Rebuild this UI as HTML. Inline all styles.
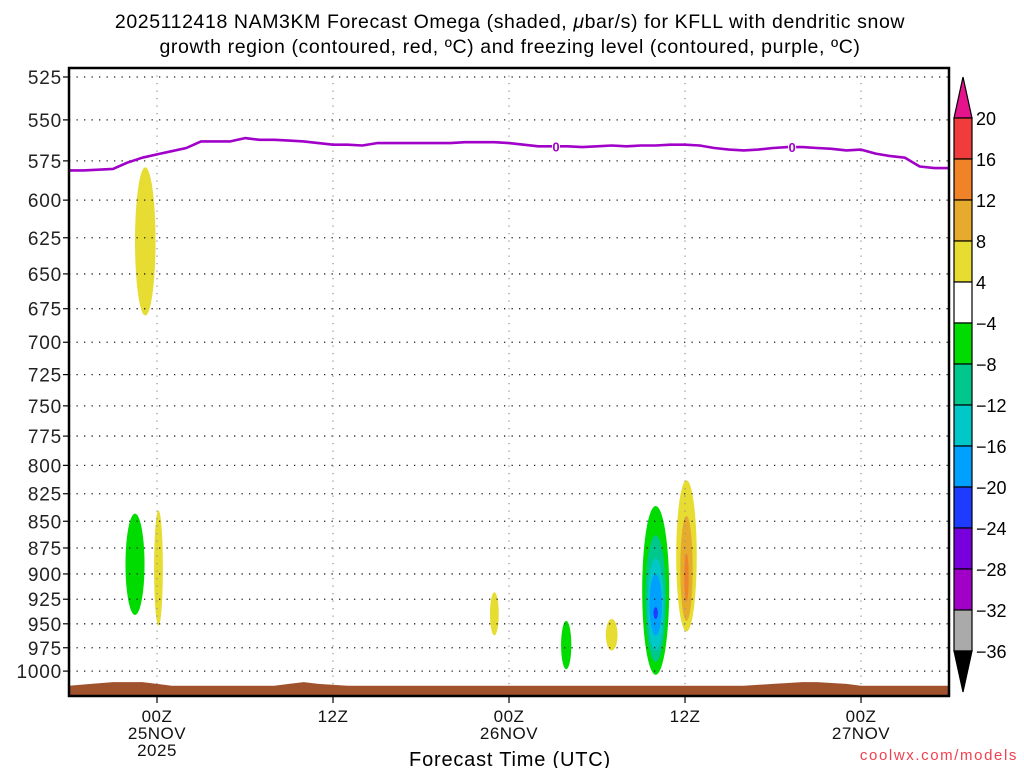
<!DOCTYPE html>
<html><head><meta charset="utf-8">
<style>
html,body{margin:0;padding:0;background:#fff;}
svg{display:block;font-family:"Liberation Sans",sans-serif;}
</style></head>
<body>
<svg id="chart" width="1024" height="768" viewBox="0 0 1024 768">
<text x="510" y="28" text-anchor="middle" font-size="19.5" letter-spacing="0.6" fill="#000">2025112418 NAM3KM Forecast Omega (shaded, <tspan font-style="italic">μ</tspan>bar/s) for KFLL with dendritic snow</text>
<text x="510" y="53" text-anchor="middle" font-size="19.5" letter-spacing="0.6" fill="#000">growth region (contoured, red, ºC) and freezing level (contoured, purple, ºC)</text>
<g id="plot"></g>
<g id="cbar"></g>
<text x="510" y="766" text-anchor="middle" font-size="20" letter-spacing="0.8" fill="#000">Forecast Time (UTC)</text>
<text x="1018" y="760" text-anchor="end" font-size="15" fill="#f04050" letter-spacing="1.6">coolwx.com/models</text>
</svg>
<script>
const pressureTicks=[525,550,575,600,625,650,675,700,725,750,775,800,825,850,875,900,925,950,975,1000];
const timeTickHours=[0,12,24,36,48];
const timeTickLabels=[["00Z","25NOV","2025"],["12Z"],["00Z","26NOV"],["12Z"],["00Z","27NOV"]];
const freezeHours=[-6,-5,-4,-3,-2,-1,0,1,2,3,4,5,6,7,8,9,10,11,12,13,14,15,16,17,18,19,20,21,22,23,24,25,26,27,28,29,30,31,32,33,34,35,36,37,38,39,40,41,42,43,44,45,46,47,48,49,50,51,52,53,54];
const freezeLevel=[581,581,580.5,580,576,573,571,569,567,563,563,563,561,562,562,562.5,563,564,565,565,565.5,564,564,564,564,564,564,563.5,563.5,563.5,564,565,566,566,566,566.5,566,565.5,566,565.5,565.5,565,565,565.5,567,568,568.5,568,567,566.5,566.5,567,567.5,568.5,568,570.5,572,573,578.5,579.5,579.5];
const freezeLabelHours=[27.2,43.3];
const terrainHours=[-6,-4.5,-3,-1,0,1,8,9,10,11,13,16,40,42,44,45,46,47,48,54];
const terrainPres=[1016,1014,1012,1012,1014,1016,1016,1014,1012,1014,1016,1016,1016,1014,1012,1012,1013,1014,1016,1016];
// omega patches: center hour, half-width hours, top p, bottom p, value (ubar/s)
const blobHour=[-0.8,-1.5,0.1,23.0,27.9,31.0,34.0,34.0,34.0,34.0,34.0,36.1,36.1,36.1];
const blobHalfW=[0.7,0.65,0.3,0.3,0.35,0.4,0.92,0.7,0.55,0.42,0.15,0.7,0.42,0.15];
const blobTop=[579,843,840,918,947,945,836,863,885,900,933,813,845,880];
const blobBottom=[680,941,952,962,998,978,1004,990,978,962,945,958,947,927];
const blobValue=[6,-6,6,6,-6,6,-6,-10,-14,-18,-22,6,10,14];
const cbarLevels=[20,16,12,8,4,-4,-8,-12,-16,-20,-24,-28,-32,-36];
const cbarColors=["#f03c3c","#f08228","#e6aa2d","#e6dc32","#ffffff","#00dc00","#00c88c","#00c8c8","#00a0ff","#1e3cff","#7800dc","#a000c8","#aaaaaa"];
const cbarTop="#e6148c", cbarBottom="#000000";

const NS="http://www.w3.org/2000/svg";
const X0=69,X1=949,Y0=68,Y1=696;
const xs=h=>X0+(h+6)*14.667;
const ys=p=>77+Math.log(p/525)*922;
function mk(tag,attrs,parent){const e=document.createElementNS(NS,tag);for(const k in attrs)e.setAttribute(k,attrs[k]);parent.appendChild(e);return e;}
function colorFor(v){for(let i=0;i<cbarLevels.length-1;i++){if(v<=cbarLevels[i]&&v>cbarLevels[i+1])return cbarColors[i];}return v>20?cbarTop:cbarBottom;}
const plot=document.getElementById('plot');
const clip=mk('clipPath',{id:'pc'},plot);mk('rect',{x:X0,y:Y0,width:X1-X0,height:Y1-Y0},clip);
const inner=mk('g',{'clip-path':'url(#pc)'},plot);
for(let i=0;i<blobHour.length;i++){
 const cx=xs(blobHour[i]),rx=blobHalfW[i]*14.667,t=ys(blobTop[i]),b=ys(blobBottom[i]);
 const e=mk('ellipse',{cx:cx,cy:(t+b)/2,rx:rx,ry:(b-t)/2,fill:colorFor(blobValue[i])},inner);
 
 
}
pressureTicks.forEach(p=>{const l=mk('line',{x1:X0,x2:X1,y1:ys(p),y2:ys(p),stroke:'#222','stroke-width':1.3,'stroke-dasharray':'1.3 6.2'},inner);
 });
timeTickHours.forEach(h=>{const l=mk('line',{x1:xs(h),x2:xs(h),y1:Y0,y2:Y1,stroke:'#999','stroke-width':1.3,'stroke-dasharray':'1.3 6.2'},inner);
 });
let d='M'+xs(terrainHours[0])+','+(Y1+2);
terrainHours.forEach((h,i)=>{d+=' L'+xs(h)+','+ys(terrainPres[i]);});
d+=' L'+xs(terrainHours[terrainHours.length-1])+','+(Y1+2)+' Z';
const ter=mk('path',{d:d,fill:'#a0522d'},inner);

let fd='';freezeHours.forEach((h,i)=>{fd+=(i?' L':'M')+xs(h).toFixed(1)+','+ys(freezeLevel[i]).toFixed(1);});
const fl=mk('path',{d:fd,fill:'none',stroke:'#a000c8','stroke-width':2.6,'stroke-linejoin':'round'},inner);

freezeLabelHours.forEach(h=>{
 let j=0;while(j<freezeHours.length-1&&freezeHours[j+1]<h)j++;
 const f=(h-freezeHours[j])/(freezeHours[j+1]-freezeHours[j]);const p=freezeLevel[j]+f*(freezeLevel[j+1]-freezeLevel[j]);
 const x=xs(h),y=ys(p);
 mk('rect',{x:x-4,y:y-7,width:8,height:14,fill:'#fff'},inner);
 const t=mk('text',{x:x,y:y+5,'text-anchor':'middle','font-size':13,fill:'#a000c8','font-weight':'bold'},inner);t.textContent='0';
 
});
const fr=mk('rect',{x:X0,y:Y0,width:X1-X0,height:Y1-Y0,fill:'none',stroke:'#000','stroke-width':2.5},plot);

pressureTicks.forEach(p=>{const y=ys(p);mk('line',{x1:X0-6,x2:X0,y1:y,y2:y,stroke:'#000','stroke-width':1.2},plot);
 const t=mk('text',{x:X0-7,y:y+7,'text-anchor':'end','font-size':19,'letter-spacing':0.8,fill:'#222'},plot);t.textContent=p;
 });
timeTickHours.forEach((h,i)=>{const x=xs(h);mk('line',{x1:x,x2:x,y1:Y1,y2:Y1+7,stroke:'#000','stroke-width':1.2},plot);
 timeTickLabels[i].forEach((s,k)=>{const t=mk('text',{x:x,y:Y1+26+k*17,'text-anchor':'middle','font-size':17,'letter-spacing':0.5,fill:'#111'},plot);t.textContent=s;
 });});
const cb=document.getElementById('cbar');const CX0=954,CX1=972,seg=41,CT=118;
mk('polygon',{points:`${CX0},${CT} ${CX1},${CT} ${(CX0+CX1)/2},77`,fill:cbarTop,stroke:'#000','stroke-width':1.2},cb);
cbarColors.forEach((c,i)=>{const r=mk('rect',{x:CX0,y:CT+i*seg,width:CX1-CX0,height:seg,fill:c,stroke:'#000','stroke-width':1.2},cb);
 });
const CB=CT+cbarColors.length*seg;
mk('polygon',{points:`${CX0},${CB} ${CX1},${CB} ${(CX0+CX1)/2},${CB+41}`,fill:cbarBottom,stroke:'#000','stroke-width':1.2},cb);
cbarLevels.forEach((v,i)=>{const t=mk('text',{x:CX1+4,y:CT+i*seg+7,'font-size':18,fill:'#000'},cb);t.textContent=v<0?'\u2212'+(-v):v;
 });
</script>
</body></html>
